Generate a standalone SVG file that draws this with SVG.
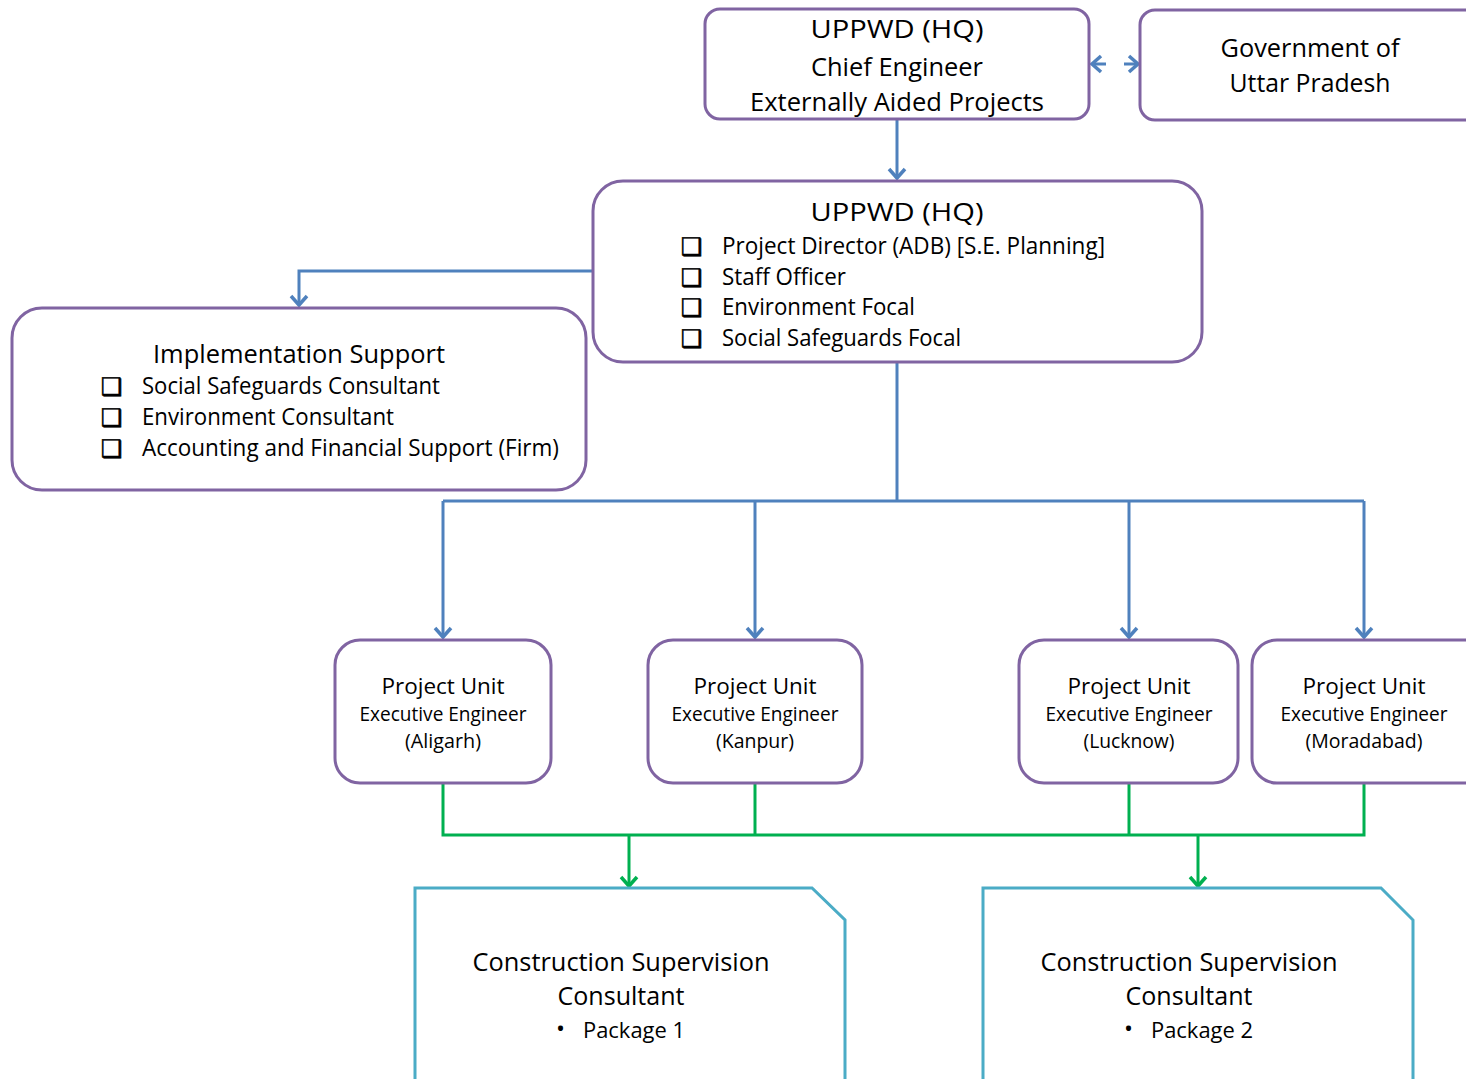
<svg xmlns="http://www.w3.org/2000/svg" width="1466" height="1079" viewBox="0 0 1466 1079">
<style>
.box{fill:#fff;stroke:#8064A2;stroke-width:3}
.csc{fill:#fff;stroke:#4BACC6;stroke-width:3}
.t{font-family:"Open Sans","Noto Sans",sans-serif;fill:#000}
.c{text-anchor:middle}
.cb{font-family:"DejaVu Sans",sans-serif;font-size:24px;fill:#000;stroke:#000;stroke-width:0.6}
.blue{fill:none;stroke:#4F81BD;stroke-width:3}
.green{fill:none;stroke:#00B050;stroke-width:3}
</style>
<defs>
<marker id="ab" markerUnits="userSpaceOnUse" markerWidth="24" markerHeight="24" refX="12" refY="12" orient="auto-start-reverse">
<path d="M3,4 L12,12 L3,20" fill="none" stroke="#4F81BD" stroke-width="3.5"/>
</marker>
<marker id="ag" markerUnits="userSpaceOnUse" markerWidth="24" markerHeight="24" refX="12" refY="12" orient="auto">
<path d="M3,4 L12,12 L3,20" fill="none" stroke="#00B050" stroke-width="3.5"/>
</marker>
</defs>
<rect width="1466" height="1079" fill="#fff"/>
<g id="connectors">
<line class="blue" x1="1092" y1="64" x2="1138" y2="64" stroke-dasharray="14,18" marker-start="url(#ab)" marker-end="url(#ab)"/>
<line class="blue" x1="897" y1="120" x2="897" y2="178" marker-end="url(#ab)"/>
<path class="blue" d="M593,271 L299,271 L299,305" marker-end="url(#ab)"/>
<path class="blue" d="M897,363 L897,501"/>
<path class="blue" d="M443,501 L1364,501"/>
<path class="blue" d="M443,501 L443,637" marker-end="url(#ab)"/>
<path class="blue" d="M755,501 L755,637" marker-end="url(#ab)"/>
<path class="blue" d="M1129,501 L1129,637" marker-end="url(#ab)"/>
<path class="blue" d="M1364,501 L1364,637" marker-end="url(#ab)"/>
<path class="green" d="M443,784 L443,835 L1364,835 L1364,784"/>
<path class="green" d="M755,784 L755,835"/>
<path class="green" d="M1129,784 L1129,835"/>
<path class="green" d="M629,835 L629,886" marker-end="url(#ag)"/>
<path class="green" d="M1198,835 L1198,886" marker-end="url(#ag)"/>
</g>
<g id="hq-chief">
<rect class="box" x="705" y="9" width="384" height="110" rx="15"/>
<text class="t c" x="897" y="38" font-size="26" textLength="173" lengthAdjust="spacingAndGlyphs">UPPWD (HQ)</text>
<text class="t c" x="897" y="76" font-size="26" textLength="172" lengthAdjust="spacingAndGlyphs">Chief Engineer</text>
<text class="t c" x="897" y="111" font-size="26" textLength="294" lengthAdjust="spacingAndGlyphs">Externally Aided Projects</text>
</g>
<g id="gov-up">
<rect class="box" x="1140" y="10" width="340" height="110" rx="15"/>
<text class="t c" x="1310" y="57" font-size="26" textLength="179" lengthAdjust="spacingAndGlyphs">Government of</text>
<text class="t c" x="1310" y="92" font-size="26" textLength="161" lengthAdjust="spacingAndGlyphs">Uttar Pradesh</text>
</g>
<g id="hq-pd">
<rect class="box" x="593" y="181" width="609" height="181" rx="30"/>
<text class="t c" x="897" y="221" font-size="26" textLength="173" lengthAdjust="spacingAndGlyphs">UPPWD (HQ)</text>
<text class="cb" x="681" y="255">❑</text>
<text class="cb" x="681" y="286">❑</text>
<text class="cb" x="681" y="316">❑</text>
<text class="cb" x="681" y="347">❑</text>
<text class="t" x="722" y="254" font-size="23" textLength="383" lengthAdjust="spacingAndGlyphs">Project Director (ADB) [S.E. Planning]</text>
<text class="t" x="722" y="285" font-size="23" textLength="124" lengthAdjust="spacingAndGlyphs">Staff Officer</text>
<text class="t" x="722" y="315" font-size="23" textLength="193" lengthAdjust="spacingAndGlyphs">Environment Focal</text>
<text class="t" x="722" y="346" font-size="23" textLength="239" lengthAdjust="spacingAndGlyphs">Social Safeguards Focal</text>
</g>
<g id="impl-support">
<rect class="box" x="12" y="308" width="574" height="182" rx="30"/>
<text class="t c" x="299" y="363" font-size="26" textLength="292" lengthAdjust="spacingAndGlyphs">Implementation Support</text>
<text class="cb" x="101" y="395">❑</text>
<text class="cb" x="101" y="426">❑</text>
<text class="cb" x="101" y="457">❑</text>
<text class="t" x="142" y="394" font-size="23" textLength="298" lengthAdjust="spacingAndGlyphs">Social Safeguards Consultant</text>
<text class="t" x="142" y="425" font-size="23" textLength="252" lengthAdjust="spacingAndGlyphs">Environment Consultant</text>
<text class="t" x="142" y="456" font-size="23" textLength="417" lengthAdjust="spacingAndGlyphs">Accounting and Financial Support (Firm)</text>
</g>
<g id="pu-aligarh">
<rect class="box" x="335" y="640" width="216" height="143" rx="25"/>
<text class="t c" x="443" y="694" font-size="22.5" textLength="123" lengthAdjust="spacingAndGlyphs">Project Unit</text>
<text class="t c" x="443" y="721" font-size="19.5" textLength="167" lengthAdjust="spacingAndGlyphs">Executive Engineer</text>
<text class="t c" x="443" y="748" font-size="19.5" textLength="76" lengthAdjust="spacingAndGlyphs">(Aligarh)</text>
</g>
<g id="pu-kanpur">
<rect class="box" x="648" y="640" width="214" height="143" rx="25"/>
<text class="t c" x="755" y="694" font-size="22.5" textLength="123" lengthAdjust="spacingAndGlyphs">Project Unit</text>
<text class="t c" x="755" y="721" font-size="19.5" textLength="167" lengthAdjust="spacingAndGlyphs">Executive Engineer</text>
<text class="t c" x="755" y="748" font-size="19.5" textLength="78" lengthAdjust="spacingAndGlyphs">(Kanpur)</text>
</g>
<g id="pu-lucknow">
<rect class="box" x="1019" y="640" width="219" height="143" rx="25"/>
<text class="t c" x="1129" y="694" font-size="22.5" textLength="123" lengthAdjust="spacingAndGlyphs">Project Unit</text>
<text class="t c" x="1129" y="721" font-size="19.5" textLength="167" lengthAdjust="spacingAndGlyphs">Executive Engineer</text>
<text class="t c" x="1129" y="748" font-size="19.5" textLength="91" lengthAdjust="spacingAndGlyphs">(Lucknow)</text>
</g>
<g id="pu-moradabad">
<rect class="box" x="1252" y="640" width="240" height="143" rx="25"/>
<text class="t c" x="1364" y="694" font-size="22.5" textLength="123" lengthAdjust="spacingAndGlyphs">Project Unit</text>
<text class="t c" x="1364" y="721" font-size="19.5" textLength="167" lengthAdjust="spacingAndGlyphs">Executive Engineer</text>
<text class="t c" x="1364" y="748" font-size="19.5" textLength="117" lengthAdjust="spacingAndGlyphs">(Moradabad)</text>
</g>
<g id="csc-1">
<path class="csc" d="M415,1085 L415,888 L812,888 L845,920 L845,1085"/>
<text class="t c" x="621" y="971" font-size="26" textLength="297" lengthAdjust="spacingAndGlyphs">Construction Supervision</text>
<text class="t c" x="621" y="1005" font-size="26" textLength="127" lengthAdjust="spacingAndGlyphs">Consultant</text>
<text class="t" x="556" y="1037" font-size="24">•</text>
<text class="t" x="583" y="1038" font-size="22.5" textLength="102" lengthAdjust="spacingAndGlyphs">Package 1</text>
</g>
<g id="csc-2">
<path class="csc" d="M983,1085 L983,888 L1381,888 L1413,920 L1413,1085"/>
<text class="t c" x="1189" y="971" font-size="26" textLength="297" lengthAdjust="spacingAndGlyphs">Construction Supervision</text>
<text class="t c" x="1189" y="1005" font-size="26" textLength="127" lengthAdjust="spacingAndGlyphs">Consultant</text>
<text class="t" x="1124" y="1037" font-size="24">•</text>
<text class="t" x="1151" y="1038" font-size="22.5" textLength="102" lengthAdjust="spacingAndGlyphs">Package 2</text>
</g>
</svg>
